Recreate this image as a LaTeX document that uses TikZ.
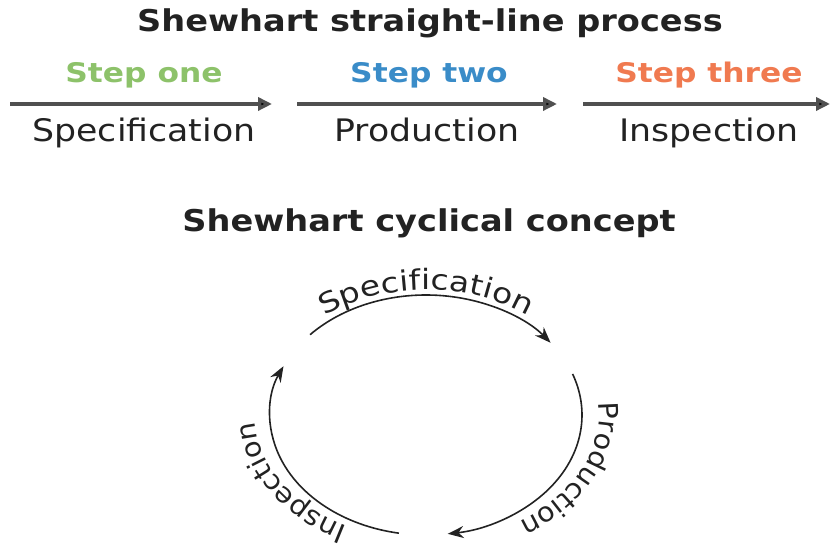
\documentclass[tikz,border=0pt]{standalone}
\usepackage{fontspec}
\setmainfont{DejaVu Sans}
\newfontfamily\ttlfont[FakeStretch=1.12]{DejaVu Sans Bold}
\newfontfamily\stpfont[FakeStretch=1.16]{DejaVu Sans Bold}
\newfontfamily\phsfont[FakeStretch=1.12]{DejaVu Sans}
\newfontfamily\cycfont[FakeStretch=1.06]{DejaVu Sans}
\newfontfamily\cycwfont[FakeStretch=1.18]{DejaVu Sans}
\usetikzlibrary{arrows.meta,decorations.text}
\definecolor{sgreen}{HTML}{8DC26A}
\definecolor{sblue}{HTML}{3A8CC8}
\definecolor{sorange}{HTML}{F07A50}
\definecolor{lgray}{HTML}{505050}
\definecolor{ink}{HTML}{222222}
\begin{document}
\begin{tikzpicture}[x=1pt,y=1pt,
  title/.style={font=\ttlfont\fontsize{30}{32}\selectfont, text=ink, inner sep=0pt, anchor=base},
  steplbl/.style={font=\stpfont\fontsize{27}{30}\selectfont, inner sep=0pt, anchor=base},
  phase/.style={font=\phsfont\fontsize{31}{34}\selectfont, text=ink, inner sep=0pt, anchor=base},
  flow/.style={draw=lgray, line width=3.4pt, -{Triangle[length=14pt,width=13pt,fill=black]}},
  cyc/.style={draw=ink, line width=1.6pt, -{Stealth[length=16pt,width=12pt]}}
]
\useasboundingbox (0,0) rectangle (830,545);
% straight-line process
\node[title] (t1) at (430,513) {Shewhart straight-line process};
\node[steplbl, text=sgreen] (s1) at (144,462) {Step one};
\node[steplbl, text=sblue] (s2) at (429,462) {Step two};
\node[steplbl, text=sorange] (s3) at (709,462) {Step three};
\coordinate (a1s) at (10,441);
\coordinate (a1e) at (272,441);
\coordinate (a2s) at (297,441);
\coordinate (a2e) at (557,441);
\coordinate (a3s) at (583,441);
\coordinate (a3e) at (830,441);
\draw[flow] (a1s) -- (a1e);
\draw[flow] (a2s) -- (a2e);
\draw[flow] (a3s) -- (a3e);
\node[phase] (p1) at (144,403) {Specification};
\node[phase] (p2) at (427,403) {Production};
\node[phase] (p3) at (709,403) {Inspection};
% cyclical concept
\node[title] (t2) at (429,313) {Shewhart cyclical concept};
\coordinate (c) at (426,130);
\draw[cyc] ([shift={(138:156 and 120)}]c) arc[start angle=138, end angle=37, x radius=156, y radius=120];
\draw[cyc] ([shift={(20:156 and 120)}]c) arc[start angle=20, end angle=-82, x radius=156, y radius=120];
\draw[cyc] ([shift={(260:156 and 120)}]c) arc[start angle=260, end angle=156, x radius=156, y radius=120];
\path[decorate, decoration={text along path, text align=center,
  text={|\cycwfont\fontsize{28}{30}\selectfont\color{ink}|Specification}}]
  ([shift={(150:168 and 125)}]c) arc[start angle=150, end angle=30, x radius=168, y radius=125];
\path[decorate, decoration={text along path, text align=center,
  text={|\cycfont\fontsize{27}{29}\selectfont\color{ink}|Production}}]
  ([shift={(48:173 and 126)}]c) arc[start angle=48, end angle=-92, x radius=173, y radius=126];
\path[decorate, decoration={text along path, text align=center,
  text={|\cycfont\fontsize{27}{29}\selectfont\color{ink}|Inspection}}]
  ([shift={(278:171 and 126)}]c) arc[start angle=278, end angle=138, x radius=171, y radius=126];
\end{tikzpicture}
\end{document}
